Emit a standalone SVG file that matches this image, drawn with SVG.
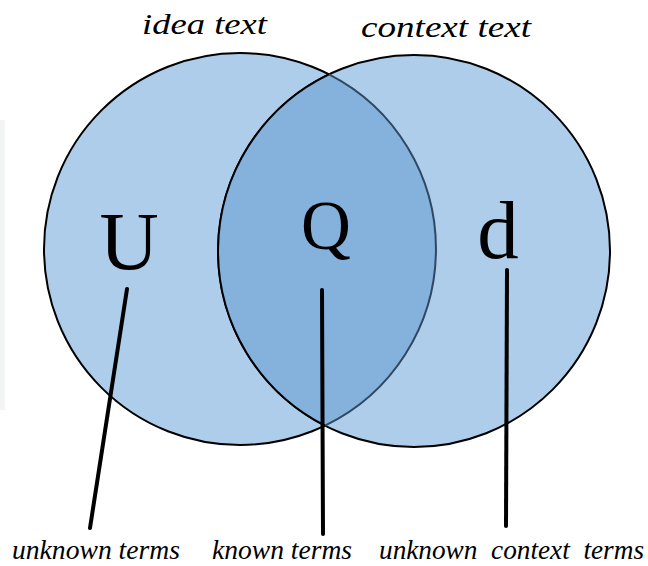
<svg xmlns="http://www.w3.org/2000/svg" width="648" height="566" viewBox="0 0 648 566">
  <style>
    .set { fill: #AECDEA; stroke: #000; stroke-width: 2; }
    .inter { fill: #84B2DD; stroke: none; }
    .lead { stroke: #000; stroke-width: 4; stroke-linecap: round; fill: none; }
    .big { font-family: "Liberation Serif", "DejaVu Serif", serif; text-anchor: middle; fill: #000; }
    .lab { font-family: "Liberation Serif", "DejaVu Serif", serif; font-style: italic; fill: #000; }
  </style>
  <rect x="0" y="0" width="648" height="566" fill="#ffffff"/>
  <rect x="0" y="120" width="5" height="290" fill="#F3F4F4"/>

  <g id="left-set">
    <circle class="set" cx="240" cy="249" r="196"/>
  </g>
  <g id="right-set">
    <circle class="set" cx="414" cy="251" r="196"/>
  </g>
  <g id="overlap">
    <path class="inter" d="M 329,74.4 A 196 196 0 0 1 325,425.6 A 196 196 0 0 1 329,74.4 Z"/>
    <path d="M 329,74.4 A 196 196 0 0 1 325,425.6" fill="none" stroke="#2F4862" stroke-width="2"/>
    <path d="M 325,425.6 A 196 196 0 0 1 329,74.4" fill="none" stroke="#000" stroke-width="2"/>
  </g>

  <g id="title-idea">
    <text class="lab" x="142" y="34" font-size="29" textLength="125" lengthAdjust="spacingAndGlyphs">idea text</text>
  </g>
  <g id="title-context">
    <text class="lab" x="361" y="37" font-size="29" textLength="170" lengthAdjust="spacingAndGlyphs">context text</text>
  </g>

  <g id="node-U">
    <text class="big" x="129" y="269" font-size="82">U</text>
  </g>
  <g id="node-Q">
    <text class="big" x="326" y="249" font-size="69">Q</text>
  </g>
  <g id="node-d">
    <text class="big" x="498" y="258" font-size="83">d</text>
  </g>

  <g id="connectors">
    <line class="lead" x1="127" y1="289" x2="90" y2="528"/>
    <line class="lead" x1="322" y1="290" x2="323" y2="534"/>
    <line class="lead" x1="507" y1="270" x2="506" y2="526"/>
  </g>

  <g id="label-unknown">
    <text class="lab" x="12" y="559" font-size="27" textLength="168" lengthAdjust="spacingAndGlyphs">unknown terms</text>
  </g>
  <g id="label-known">
    <text class="lab" x="212" y="559" font-size="27" textLength="140" lengthAdjust="spacingAndGlyphs">known terms</text>
  </g>
  <g id="label-unknown-context">
    <text class="lab" x="379" y="559" font-size="27" textLength="265" lengthAdjust="spacingAndGlyphs" xml:space="preserve">unknown  context  terms</text>
  </g>
</svg>
